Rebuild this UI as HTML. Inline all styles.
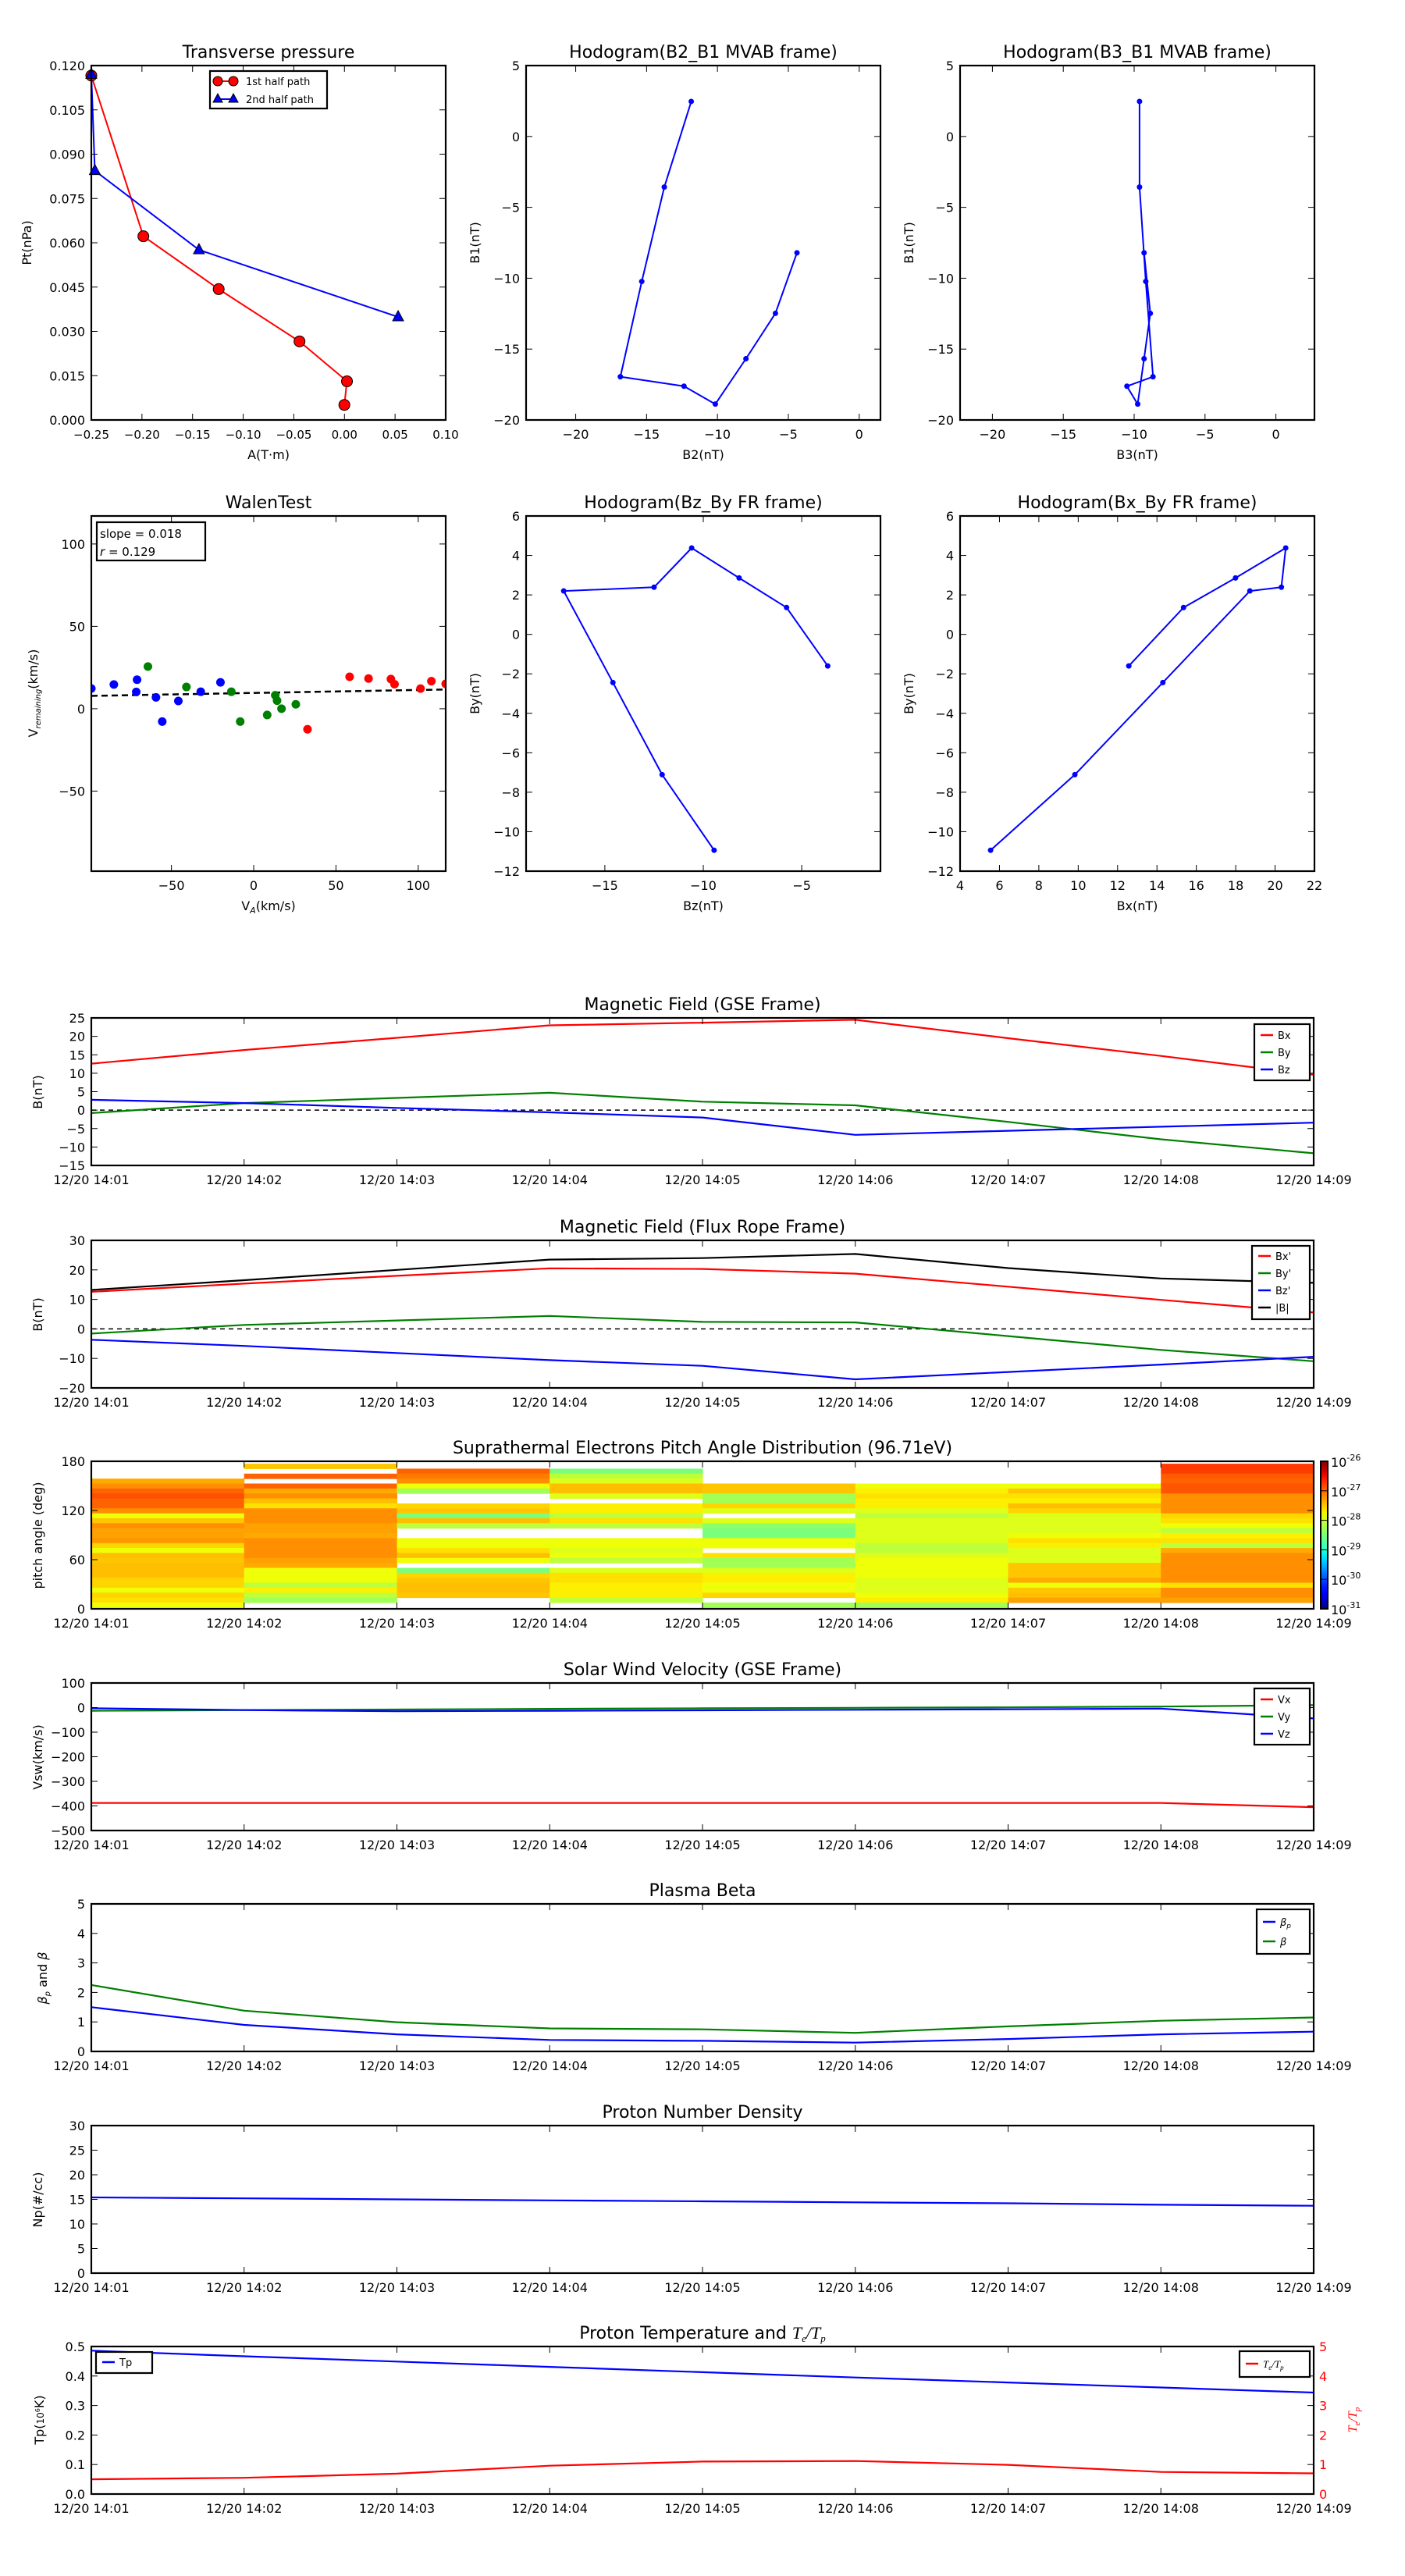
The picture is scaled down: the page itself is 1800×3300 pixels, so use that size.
<!DOCTYPE html>
<html><head><meta charset="utf-8"><title>Flux rope analysis</title>
<style>
html,body{margin:0;padding:0;background:#fff;}
svg{display:block;font-family:"DejaVu Sans","Liberation Sans",sans-serif;}
</style></head>
<body>
<svg id="fig" xmlns="http://www.w3.org/2000/svg" width="1800" height="3300" viewBox="0 0 1800 3300"></svg>
<script>
// ---------- DATA ----------
const ptRedA = [-0.25, -0.1986, -0.1242, -0.0444, 0.0025, -0.0001];
const ptRedP = [0.1166, 0.0622, 0.0443, 0.0266, 0.0131, 0.0051];
const ptBlueA = [-0.25, -0.2465, -0.1437, 0.053];
const ptBlueP = [0.117, 0.0844, 0.0576, 0.0349];

const hodoB1 = [2.47, -3.57, -10.23, -16.95, -17.62, -18.88, -15.68, -12.48, -8.21];
const hodoB2 = [-11.85, -13.75, -15.34, -16.85, -12.36, -10.15, -7.99, -5.91, -4.39];
const hodoB3 = [-9.62, -9.62, -9.18, -8.67, -10.51, -9.75, -9.30, -8.86, -9.30];

const walenBlueX = [-98.7, -85, -70.9, -71.4, -59.4, -55.6, -45.8, -32.2, -20.2];
const walenBlueY = [12.3, 14.7, 17.6, 10.2, 6.9, -7.8, 4.7, 10.3, 16];
const walenGreenX = [-64.3, -40.9, -13.6, -8.2, 8.2, 13.1, 14.2, 16.9, 25.6];
const walenGreenY = [25.6, 13.2, 10.3, -7.8, -3.8, 8.2, 4.9, 0, 2.7];
const walenRedX = [32.7, 58.3, 69.8, 83.4, 85.6, 101.4, 108, 116.7];
const walenRedY = [-12.5, 19.4, 18.3, 18, 14.9, 12.2, 16.7, 15.1];
const walenSlope = 0.018;
const walenIntercept = 9.58;

const frBx = [12.57, 15.35, 17.99, 20.54, 20.32, 18.72, 14.3, 9.83, 5.55];
const frBy = [-1.6, 1.36, 2.86, 4.38, 2.39, 2.2, -2.44, -7.11, -10.94];
const frBz = [-3.68, -5.77, -8.18, -10.59, -12.5, -17.09, -14.59, -12.09, -9.45];
const frBt = [13.2, 16.5, 20.0, 23.5, 24.0, 25.4, 20.6, 17.1, 15.6];

const timeLabels = ['12/20 14:01','12/20 14:02','12/20 14:03','12/20 14:04','12/20 14:05','12/20 14:06','12/20 14:07','12/20 14:08','12/20 14:09'];
const gseBx = [12.6, 16.3, 19.6, 23.0, 23.7, 24.5, 19.5, 14.7, 9.6];
const gseBy = [-0.8, 1.9, 3.3, 4.7, 2.3, 1.3, -3.2, -7.9, -11.7];
const gseBz = [2.8, 1.9, 0.6, -0.6, -2.0, -6.7, -5.6, -4.5, -3.4];

const swVx = [-388, -388, -388, -388, -388, -388, -388, -388, -405];
const swVy = [-13, -10, -8, -5, -3, -1, 1, 4, 10];
const swVz = [-3, -10, -15, -13, -11, -9, -7, -4, -44];

const betaP = [1.5, 0.9, 0.58, 0.39, 0.36, 0.30, 0.42, 0.58, 0.67];
const betaAll = [2.25, 1.38, 0.99, 0.78, 0.75, 0.63, 0.85, 1.04, 1.15];

const densNp = [15.4, 15.2, 15.0, 14.8, 14.6, 14.4, 14.2, 13.9, 13.7];

const tempTp = [0.486, 0.467, 0.449, 0.431, 0.413, 0.395, 0.378, 0.361, 0.344];
const tempRatio = [0.5, 0.55, 0.69, 0.96, 1.10, 1.12, 0.99, 0.75, 0.70];

// PAD: log10 values per time column, bins listed from top (highest pitch angle) to bottom; null = no data
const padCol1 = [null,null,null,-27.35,-27.2,-26.97,-26.87,-26.97,-26.97,-27.2,-27.8,-27.5,-27.2,-27.3,-27.3,-27.25,-27.58,-27.8,-27.46,-27.5,-27.46,-27.46,-27.46,-27.58,-27.58,-27.8,-27.58,-27.64,-27.8];
const padCol2 = [-27.5,null,-26.97,null,-26.97,-27.35,-27.2,-27.46,-27.64,-27.2,-27.2,-27.2,-27.3,-27.3,-27.35,-27.2,-27.2,-27.2,-27.2,-27.3,-27.35,-27.8,-27.8,-27.8,-28.1,-27.72,-28.1,-28.27,null];
const padCol3 = [null,-26.97,-27.1,-27.2,-27.8,-28.27,null,null,-27.58,-27.5,-28.5,-27.46,-28.1,null,null,-27.8,-27.8,-27.64,-27.46,-27.8,null,-28.5,-27.58,-27.5,-27.46,-27.46,-27.5,null,null];
const padCol4 = [null,-28.5,-28.1,-27.9,-27.46,-27.46,-27.9,null,-27.72,-27.72,-28.1,-27.64,-28.1,null,null,-27.8,-27.8,-27.9,-27.8,-28.1,null,-27.9,-27.64,-27.64,-27.72,-27.72,-27.72,-28.1,null];
const padCol5 = [null,null,null,null,-27.5,-27.5,-28.27,-28.27,-27.58,-27.9,null,-27.9,-28.4,-28.5,-28.5,-27.8,-27.8,null,-27.64,-28.27,-28.27,-27.9,-27.72,-27.72,-27.8,-27.8,-27.58,null,-28.27];
const padCol6 = [null,null,null,null,-27.8,-27.72,-27.64,-27.72,-27.72,-27.9,-28.1,-27.9,-27.9,-27.9,-27.9,-27.9,-28.1,-28.1,-27.9,-27.8,-27.8,-27.8,-27.8,-27.9,-27.9,-27.9,-27.8,-27.72,-28.27];
const padCol7 = [null,null,null,null,-27.8,-27.5,-27.64,-27.72,-27.46,-27.58,-27.9,-27.9,-27.9,-27.9,-27.8,-27.64,-27.72,-27.9,-27.9,-27.9,-27.5,-27.5,-27.5,-27.35,-27.8,-27.5,-27.46,-27.3,null];
const padCol8 = [-26.75,-26.77,-26.93,-26.97,-26.9,-26.9,-27.2,-27.2,-27.2,-27.2,-27.58,-27.64,-27.8,-28.1,-27.72,-27.64,-28.1,-27.35,-27.2,-27.2,-27.2,-27.2,-27.2,-27.2,-27.64,-27.2,-27.2,-27.3,null];
const padCols = [padCol1,padCol2,padCol3,padCol4,padCol5,padCol6,padCol7,padCol8];
const padBinLow = 1.6, padBinWidth = 6.05;
const cbarLabels = ['-26','-27','-28','-29','-30','-31'];

// ---------- HELPERS ----------
const NS = 'http://www.w3.org/2000/svg';
const svg = document.getElementById('fig');
const TITLE_SIZE = 22;
function mk(tag, attrs, parent, name, inter) {
  const el = document.createElementNS(NS, tag);
  for (const k in attrs) el.setAttribute(k, attrs[k]);
  
  
  (parent || svg).appendChild(el);
  return el;
}
function txt(x, y, s, size, anchor, parent, name, extra) {
  const a = Object.assign({x: x, y: y, 'font-size': size, 'text-anchor': anchor || 'middle', fill: '#000'}, extra || {});
  const t = mk('text', a, parent, name, false);
  t.textContent = s;
  return t;
}
function fmtNum(v, d) { const s = Math.abs(v).toFixed(d); return (v < 0 ? '\u2212' : '') + s; }

function makeAxes(box, xr, yr, name) {
  const g = mk('g', {}, svg, name, false);
  const sx = v => box.x0 + (v - xr[0]) / (xr[1] - xr[0]) * (box.x1 - box.x0);
  const sy = v => box.y1 - (v - yr[0]) / (yr[1] - yr[0]) * (box.y1 - box.y0);
  const clipId = 'clip-' + name;
  const cp = mk('clipPath', {id: clipId}, g, name + '-clip', false);
  mk('rect', {x: box.x0, y: box.y0, width: box.x1 - box.x0, height: box.y1 - box.y0}, cp, name + '-clip-rect', false);
  const plot = mk('g', {'clip-path': 'url(#' + clipId + ')'}, g, name + '-plot-area', false);
  return {g: g, plot: plot, sx: sx, sy: sy, box: box};
}
function frame(ax, name) {
  const b = ax.box;
  mk('rect', {x: b.x0, y: b.y0, width: b.x1 - b.x0, height: b.y1 - b.y0, fill: 'none', stroke: '#000', 'stroke-width': 2.2}, ax.g, name + '-frame', false);
}
function xTicks(ax, vals, labels, name, size) {
  const b = ax.box;
  vals.forEach((v, i) => {
    const x = ax.sx(v);
    mk('line', {x1: x, x2: x, y1: b.y1, y2: b.y1 - 8, stroke: '#000', 'stroke-width': 1}, ax.g, name + '-xtick', false);
    mk('line', {x1: x, x2: x, y1: b.y0, y2: b.y0 + 8, stroke: '#000', 'stroke-width': 1}, ax.g, name + '-xtick-top', false);
    txt(x, b.y1 + 24, labels[i], size || 16, 'middle', ax.g, name + '-xtick-label');
  });
}
function yTicks(ax, vals, labels, name, right) {
  const b = ax.box;
  vals.forEach((v, i) => {
    const y = ax.sy(v);
    mk('line', {x1: b.x0, x2: b.x0 + 8, y1: y, y2: y, stroke: '#000', 'stroke-width': 1}, ax.g, name + '-ytick', false);
    if (!right) mk('line', {x1: b.x1, x2: b.x1 - 8, y1: y, y2: y, stroke: '#000', 'stroke-width': 1}, ax.g, name + '-ytick-right', false);
    txt(b.x0 - 8, y + 6, labels[i], 16, 'end', ax.g, name + '-ytick-label');
  });
}
function poly(ax, xs, ys, color, name, w) {
  const pts = xs.map((x, i) => ax.sx(x).toFixed(1) + ',' + ax.sy(ys[i]).toFixed(1)).join(' ');
  return mk('polyline', {points: pts, fill: 'none', stroke: color, 'stroke-width': w || 2.2, 'stroke-linejoin': 'round'}, ax.plot, name, false);
}
function range(a, b, s) { const r = []; for (let v = a; v <= b + 1e-9; v += s) r.push(Math.round(v * 1000) / 1000); return r; }
function ylabel(x, y, s, parent, name, color) {
  const t = txt(x, y, s, 16, 'middle', parent, name, {transform: 'rotate(-90 ' + x + ' ' + y + ')', fill: color || '#000'});
  return t;
}
function legend(ax, x0, y0, w, h, entries, name) {
  const g = mk('g', {}, ax.g, name, false);
  mk('rect', {x: x0, y: y0, width: w, height: h, fill: '#fff', stroke: '#000', 'stroke-width': 2.2}, g, name + '-box', false);
  entries.forEach((e, i) => {
    const y = y0 + e.dy;
    mk('line', {x1: x0 + 8, x2: x0 + 24, y1: y, y2: y, stroke: e.c, 'stroke-width': 2.5}, g, name + '-swatch', false);
    const t = txt(x0 + 30, y + 5, '', 13, 'start', g, name + '-label');
    t.innerHTML = e.t;
  });
}

// ---------- ROW 1 ----------
{
  const ax = makeAxes({x0: 117, x1: 571, y0: 84, y1: 538}, [-0.25, 0.10], [0, 0.12], 'pt-panel');
  txt(344, 74, 'Transverse pressure', TITLE_SIZE, 'middle', ax.g, 'pt-title');
  poly(ax, ptRedA, ptRedP, '#ff0000', 'pt-red-line', 2);
  poly(ax, ptBlueA, ptBlueP, '#0000ff', 'pt-blue-line', 2);
  ptRedA.forEach((a, i) => {
    mk('circle', {cx: ax.sx(a), cy: ax.sy(ptRedP[i]), r: 7, fill: '#ff0000', stroke: '#000', 'stroke-width': 1}, ax.g, 'pt-red-marker', false);
  });
  ptBlueA.forEach((a, i) => {
    const x = ax.sx(a), y = ax.sy(ptBlueP[i]);
    mk('polygon', {points: (x) + ',' + (y - 8) + ' ' + (x - 7) + ',' + (y + 5) + ' ' + (x + 7) + ',' + (y + 5), fill: '#0000ff', stroke: '#000', 'stroke-width': 1}, ax.g, 'pt-blue-marker', false);
  });
  frame(ax, 'pt');
  xTicks(ax, range(-0.25, 0.10, 0.05), range(-0.25, 0.10, 0.05).map(v => fmtNum(v, 2)), 'pt', 15);
  yTicks(ax, range(0, 0.12, 0.015), range(0, 0.12, 0.015).map(v => fmtNum(v, 3)), 'pt');
  txt(344, 588, 'A(T\u00b7m)', 16, 'middle', ax.g, 'pt-xlabel');
  ylabel(40, 311, 'Pt(nPa)', ax.g, 'pt-ylabel');
  const lg = mk('g', {}, ax.g, 'pt-legend', false);
  mk('rect', {x: 269, y: 91, width: 150, height: 48, fill: '#fff', stroke: '#000', 'stroke-width': 2.2}, lg, 'pt-legend-box', false);
  mk('line', {x1: 279, x2: 299, y1: 104, y2: 104, stroke: '#ff0000', 'stroke-width': 2}, lg, 'pt-legend-red-line', false);
  mk('circle', {cx: 279, cy: 104, r: 6, fill: '#ff0000', stroke: '#000'}, lg, 'pt-legend-red-dot', false);
  mk('circle', {cx: 299, cy: 104, r: 6, fill: '#ff0000', stroke: '#000'}, lg, 'pt-legend-red-dot', false);
  txt(315, 109, '1st half path', 13, 'start', lg, 'pt-legend-red-label');
  mk('line', {x1: 279, x2: 299, y1: 127, y2: 127, stroke: '#0000ff', 'stroke-width': 2}, lg, 'pt-legend-blue-line', false);
  mk('polygon', {points: '279,120 273,131 285,131', fill: '#0000ff', stroke: '#000'}, lg, 'pt-legend-blue-tri', false);
  mk('polygon', {points: '299,120 293,131 305,131', fill: '#0000ff', stroke: '#000'}, lg, 'pt-legend-blue-tri', false);
  txt(315, 132, '2nd half path', 13, 'start', lg, 'pt-legend-blue-label');
}
function hodo(box, xr, yr, xs, ys, name, title, xl, yl, xtv, ytv, ylx) {
  const ax = makeAxes(box, xr, yr, name);
  txt((box.x0 + box.x1) / 2, box.y0 - 10, title, TITLE_SIZE, 'middle', ax.g, name + '-title');
  poly(ax, xs, ys, '#0000ff', name + '-line', 2);
  xs.forEach((x, i) => {
    mk('circle', {cx: ax.sx(x), cy: ax.sy(ys[i]), r: 3.5, fill: '#0000ff'}, ax.plot, name + '-point', false);
  });
  frame(ax, name);
  xTicks(ax, xtv, xtv.map(v => fmtNum(v, 0)), name);
  yTicks(ax, ytv, ytv.map(v => fmtNum(v, 0)), name);
  txt((box.x0 + box.x1) / 2, box.y1 + 50, xl, 16, 'middle', ax.g, name + '-xlabel');
  ylabel(ylx, (box.y0 + box.y1) / 2, yl, ax.g, name + '-ylabel');
  return ax;
}
hodo({x0: 674, x1: 1128, y0: 84, y1: 538}, [-23.5, 1.5], [-20, 5], hodoB2, hodoB1, 'hodo-b2b1', 'Hodogram(B2_B1 MVAB frame)', 'B2(nT)', 'B1(nT)', range(-20, 0, 5), range(-20, 5, 5), 614);
hodo({x0: 1230, x1: 1684, y0: 84, y1: 538}, [-22.28, 2.72], [-20, 5], hodoB3, hodoB1, 'hodo-b3b1', 'Hodogram(B3_B1 MVAB frame)', 'B3(nT)', 'B1(nT)', range(-20, 0, 5), range(-20, 5, 5), 1170);

// ---------- ROW 2 ----------
{
  const box = {x0: 117, x1: 571, y0: 661, y1: 1116};
  const ax = makeAxes(box, [-98.7, 116.7], [-98.6, 117], 'walen');
  txt(344, 651, 'WalenTest', TITLE_SIZE, 'middle', ax.g, 'walen-title');
  mk('line', {x1: ax.sx(-98.7), y1: ax.sy(walenIntercept + walenSlope * -98.7), x2: ax.sx(116.7), y2: ax.sy(walenIntercept + walenSlope * 116.7), stroke: '#000', 'stroke-width': 2.5, 'stroke-dasharray': '8,5'}, ax.plot, 'walen-fit-line', false);
  const groups = [[walenBlueX, walenBlueY, '#0000ff', 'walen-blue-point'], [walenGreenX, walenGreenY, '#008000', 'walen-green-point'], [walenRedX, walenRedY, '#ff0000', 'walen-red-point']];
  groups.forEach(gp => {
    gp[0].forEach((x, i) => {
      mk('circle', {cx: ax.sx(x), cy: ax.sy(gp[1][i]), r: 5.5, fill: gp[2]}, ax.plot, gp[3], false);
    });
  });
  frame(ax, 'walen');
  xTicks(ax, [-50, 0, 50, 100], ['\u221250', '0', '50', '100'], 'walen');
  yTicks(ax, [-50, 0, 50, 100], ['\u221250', '0', '50', '100'], 'walen');
  const xl = txt(344, 1166, '', 16, 'middle', ax.g, 'walen-xlabel');
  xl.innerHTML = 'V<tspan font-size="11" dy="4" font-style="italic">A</tspan><tspan dy="-4">(km/s)</tspan>';
  const yl = txt(48, 888, '', 16, 'middle', ax.g, 'walen-ylabel', {transform: 'rotate(-90 48 888)'});
  yl.innerHTML = 'V<tspan font-size="10" dy="4" font-style="italic">remaining</tspan><tspan dy="-4">(km/s)</tspan>';
  const tb = mk('g', {}, ax.g, 'walen-stats-box', false);
  mk('rect', {x: 124, y: 669, width: 139, height: 49, fill: '#fff', stroke: '#000', 'stroke-width': 2.2}, tb, 'walen-stats-frame', false);
  txt(128, 689, 'slope = 0.018', 15, 'start', tb, 'walen-slope-text');
  const rt = txt(128, 712, '', 15, 'start', tb, 'walen-r-text');
  rt.innerHTML = '<tspan font-style="italic">r</tspan> = 0.129';
}
hodo({x0: 674, x1: 1128, y0: 661, y1: 1116}, [-19, -1], [-12, 6], frBz, frBy, 'hodo-bzby', 'Hodogram(Bz_By FR frame)', 'Bz(nT)', 'By(nT)', [-15, -10, -5], range(-12, 6, 2), 614);
hodo({x0: 1230, x1: 1684, y0: 661, y1: 1116}, [4, 22], [-12, 6], frBx, frBy, 'hodo-bxby', 'Hodogram(Bx_By FR frame)', 'Bx(nT)', 'By(nT)', range(4, 22, 2), range(-12, 6, 2), 1170);

// ---------- TIME SERIES ----------
const tIdx = [0, 1, 2, 3, 4, 5, 6, 7, 8];
function tsAxes(y0, yr, name, title, ytv, ytl, ylab) {
  const box = {x0: 117, x1: 1683, y0: y0, y1: y0 + 189};
  const ax = makeAxes(box, [0, 8], yr, name);
  const t = txt(900, y0 - 10, '', TITLE_SIZE, 'middle', ax.g, name + '-title');
  t.innerHTML = title;
  ax.ytv = ytv; ax.ytl = ytl; ax.name = name;
  if (ylab) ylabel(54, y0 + 95, ylab, ax.g, name + '-ylabel');
  return ax;
}
function tsFinish(ax, noRight) {
  frame(ax, ax.name);
  xTicks(ax, tIdx, timeLabels, ax.name);
  yTicks(ax, ax.ytv, ax.ytl, ax.name, noRight);
}
function zeroLine(ax) {
  mk('line', {x1: ax.box.x0, x2: ax.box.x1, y1: ax.sy(0), y2: ax.sy(0), stroke: '#000', 'stroke-width': 1.5, 'stroke-dasharray': '6,5'}, ax.plot, ax.name + '-zero-line', false);
}
{
  const ax = tsAxes(1304, [-15, 25], 'bgse', 'Magnetic Field (GSE Frame)', range(-15, 25, 5), range(-15, 25, 5).map(v => fmtNum(v, 0)), 'B(nT)');
  zeroLine(ax);
  poly(ax, tIdx, gseBx, '#ff0000', 'bgse-bx-line');
  poly(ax, tIdx, gseBy, '#008000', 'bgse-by-line');
  poly(ax, tIdx, gseBz, '#0000ff', 'bgse-bz-line');
  tsFinish(ax);
  legend(ax, 1607, 1312, 71, 72, [{c: '#ff0000', t: 'Bx', dy: 14}, {c: '#008000', t: 'By', dy: 36}, {c: '#0000ff', t: 'Bz', dy: 58}], 'bgse-legend');
}
{
  const ax = tsAxes(1589, [-20, 30], 'bfr', 'Magnetic Field (Flux Rope Frame)', range(-20, 30, 10), range(-20, 30, 10).map(v => fmtNum(v, 0)), 'B(nT)');
  zeroLine(ax);
  poly(ax, tIdx, frBx, '#ff0000', 'bfr-bx-line');
  poly(ax, tIdx, frBy, '#008000', 'bfr-by-line');
  poly(ax, tIdx, frBz, '#0000ff', 'bfr-bz-line');
  poly(ax, tIdx, frBt, '#000000', 'bfr-bt-line');
  tsFinish(ax);
  legend(ax, 1604, 1596, 74, 94, [{c: '#ff0000', t: "Bx'", dy: 13}, {c: '#008000', t: "By'", dy: 35}, {c: '#0000ff', t: "Bz'", dy: 57}, {c: '#000000', t: '|B|', dy: 79}], 'bfr-legend');
}
function jet(t) {
  t = Math.max(0, Math.min(1, t));
  const interp = (pts) => { for (let i = 0; i < pts.length - 1; i++) { if (t <= pts[i + 1][0]) { const f = (t - pts[i][0]) / (pts[i + 1][0] - pts[i][0]); return pts[i][1] + f * (pts[i + 1][1] - pts[i][1]); } } return pts[pts.length - 1][1]; };
  const r = interp([[0, 0], [0.35, 0], [0.66, 1], [0.89, 1], [1, 0.5]]);
  const g = interp([[0, 0], [0.125, 0], [0.375, 1], [0.64, 1], [0.91, 0], [1, 0]]);
  const b = interp([[0, 0.5], [0.11, 1], [0.34, 1], [0.65, 0], [1, 0]]);
  return 'rgb(' + Math.round(r * 255) + ',' + Math.round(g * 255) + ',' + Math.round(b * 255) + ')';
}
{
  const ax = tsAxes(1872, [0, 180], 'pad', 'Suprathermal Electrons Pitch Angle Distribution (96.71eV)', [0, 60, 120, 180], ['0', '60', '120', '180'], 'pitch angle (deg)');
  padCols.forEach((col, c) => {
    const nb = col.length;
    col.forEach((v, r) => {
      if (v === null) return;
      const hi = padBinLow + padBinWidth * (nb - r);
      const lo = hi - padBinWidth;
      const x0 = ax.sx(c), x1 = ax.sx(c + 1);
      mk('rect', {x: x0, y: ax.sy(hi), width: x1 - x0 + 0.5, height: ax.sy(lo) - ax.sy(hi) + 0.5, fill: jet((v + 31) / 5)}, ax.plot, 'pad-cell', false);
    });
  });
  tsFinish(ax);
  const defs = mk('defs', {}, svg, 'colorbar-defs', false);
  const lg = mk('linearGradient', {id: 'jetgrad', x1: 0, y1: 1, x2: 0, y2: 0}, defs, 'colorbar-gradient', false);
  for (let i = 0; i <= 20; i++) {
    mk('stop', {offset: (i / 20), 'stop-color': jet(i / 20)}, lg, 'colorbar-stop', false);
  }
  const cb = mk('g', {}, svg, 'colorbar', false);
  mk('rect', {x: 1692, y: 1872, width: 9, height: 189, fill: 'url(#jetgrad)', stroke: '#000', 'stroke-width': 2}, cb, 'colorbar-bar', false);
  cbarLabels.forEach((s, i) => {
    const y = 1872 + i * 189 / 5;
    mk('line', {x1: 1692, x2: 1701, y1: y, y2: y, stroke: '#000', 'stroke-width': 1}, cb, 'colorbar-tick', false);
    const t = txt(1705, y + 7, '', 16, 'start', cb, 'colorbar-label');
    t.innerHTML = '10<tspan font-size="11" dy="-8">' + s + '</tspan>';
  });
}
{
  const ax = tsAxes(2156, [-500, 100], 'vsw', 'Solar Wind Velocity (GSE Frame)', range(-500, 100, 100), range(-500, 100, 100).map(v => fmtNum(v, 0)), 'Vsw(km/s)');
  poly(ax, tIdx, swVx, '#ff0000', 'vsw-vx-line');
  poly(ax, tIdx, swVy, '#008000', 'vsw-vy-line');
  poly(ax, tIdx, swVz, '#0000ff', 'vsw-vz-line');
  tsFinish(ax);
  legend(ax, 1607, 2163, 71, 72, [{c: '#ff0000', t: 'Vx', dy: 14}, {c: '#008000', t: 'Vy', dy: 36}, {c: '#0000ff', t: 'Vz', dy: 58}], 'vsw-legend');
}
{
  const ax = tsAxes(2439, [0, 5], 'beta', 'Plasma Beta', range(0, 5, 1), range(0, 5, 1).map(v => fmtNum(v, 0)), null);
  const yl = txt(60, 2534, '', 16, 'middle', ax.g, 'beta-ylabel', {transform: 'rotate(-90 60 2534)'});
  yl.innerHTML = '<tspan font-style="italic">\u03b2</tspan><tspan font-size="10" font-style="italic" dy="4">p</tspan><tspan dy="-4"> and </tspan><tspan font-style="italic">\u03b2</tspan>';
  poly(ax, tIdx, betaAll, '#008000', 'beta-total-line');
  poly(ax, tIdx, betaP, '#0000ff', 'beta-proton-line');
  tsFinish(ax);
  legend(ax, 1610, 2446, 68, 57, [{c: '#0000ff', t: '<tspan font-style="italic">\u03b2</tspan><tspan font-size="9" dy="3" font-style="italic">p</tspan>', dy: 16}, {c: '#008000', t: '<tspan font-style="italic">\u03b2</tspan>', dy: 41}], 'beta-legend');
}
{
  const ax = tsAxes(2723, [0, 30], 'np', 'Proton Number Density', range(0, 30, 5), range(0, 30, 5).map(v => fmtNum(v, 0)), 'Np(#/cc)');
  poly(ax, tIdx, densNp, '#0000ff', 'np-line');
  tsFinish(ax);
}
{
  const ax = tsAxes(3006, [0, 0.5], 'temp', 'Proton Temperature and <tspan font-family="Liberation Serif, serif" font-style="italic">T</tspan><tspan font-family="Liberation Serif, serif" font-style="italic" font-size="13" dy="4">e</tspan><tspan font-family="Liberation Serif, serif" font-style="italic" dy="-4">/T</tspan><tspan font-family="Liberation Serif, serif" font-style="italic" font-size="13" dy="4">p</tspan>', range(0, 0.5, 0.1), range(0, 0.5, 0.1).map(v => v.toFixed(1)), null);
  const yl = txt(56, 3100, '', 16, 'middle', ax.g, 'temp-ylabel', {transform: 'rotate(-90 56 3100)'});
  yl.innerHTML = 'Tp(<tspan font-size="12">10</tspan><tspan font-size="8" dy="-5">6</tspan><tspan dy="5">K)</tspan>';
  const ratioY = v => ax.box.y1 - v / 5 * (ax.box.y1 - ax.box.y0);
  poly(ax, tIdx, tempTp, '#0000ff', 'temp-tp-line');
  const pts = tIdx.map((x, i) => ax.sx(x).toFixed(1) + ',' + ratioY(tempRatio[i]).toFixed(1)).join(' ');
  mk('polyline', {points: pts, fill: 'none', stroke: '#ff0000', 'stroke-width': 2.2}, ax.plot, 'temp-ratio-line', false);
  tsFinish(ax, true);
  [0, 1, 2, 3, 4, 5].forEach(v => {
    const y = ratioY(v);
    mk('line', {x1: 1683, x2: 1675, y1: y, y2: y, stroke: '#000', 'stroke-width': 1}, ax.g, 'temp-right-tick', false);
    txt(1690, y + 6, String(v), 16, 'start', ax.g, 'temp-right-tick-label', {fill: '#ff0000'});
  });
  const ry = txt(1738, 3100, '', 16, 'middle', ax.g, 'temp-right-ylabel', {transform: 'rotate(-90 1738 3100)', fill: '#ff0000', 'font-family': 'Liberation Serif, serif', 'font-style': 'italic'});
  ry.innerHTML = 'T<tspan font-size="11" dy="4">e</tspan><tspan dy="-4">/T</tspan><tspan font-size="11" dy="4">p</tspan>';
  legend(ax, 123, 3013, 72, 27, [{c: '#0000ff', t: 'Tp', dy: 13}], 'temp-tp-legend');
  legend(ax, 1588, 3012, 90, 33, [{c: '#ff0000', t: '<tspan font-family="Liberation Serif, serif" font-style="italic">T</tspan><tspan font-family="Liberation Serif, serif" font-style="italic" font-size="9" dy="3">e</tspan><tspan font-family="Liberation Serif, serif" font-style="italic" dy="-3">/T</tspan><tspan font-family="Liberation Serif, serif" font-style="italic" font-size="9" dy="3">p</tspan>', dy: 16}], 'temp-ratio-legend');
}
</script>
</body></html>
